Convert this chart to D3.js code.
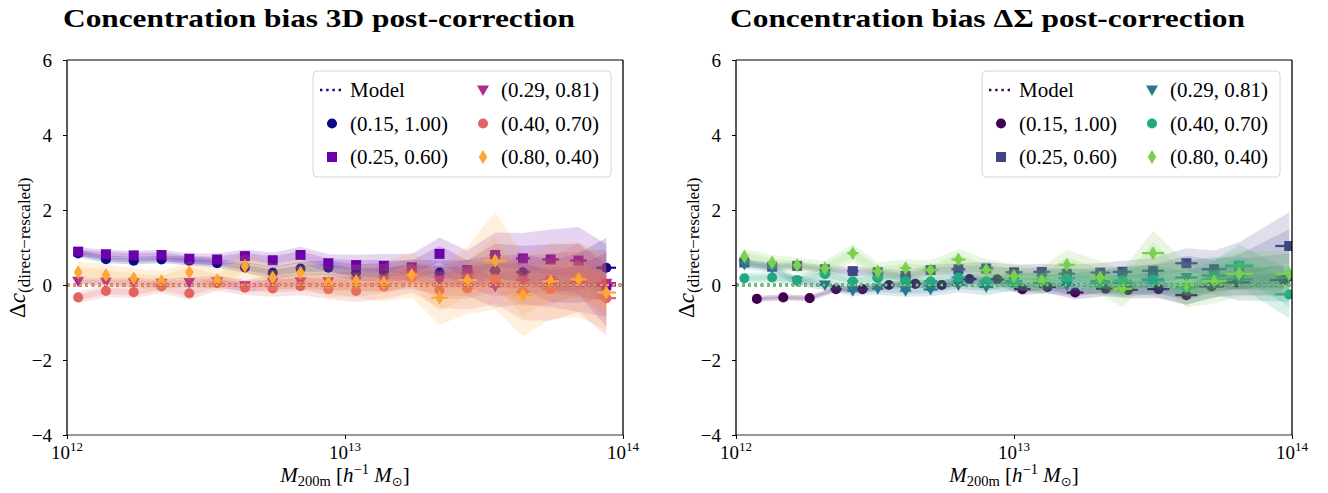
<!DOCTYPE html>
<html>
<head>
<meta charset="utf-8">
<script src="https://cdn.jsdelivr.net/npm/d3@7"></script>
<style>
  body { margin: 0; background: #fff; }
  svg { display: block; }
  text { font-family: "Liberation Serif", "DejaVu Serif", serif; fill: #000; }
</style>
</head>
<body>
<svg id="fig" width="1328" height="493"></svg>
<script>
// ---- shared labels / styles ----
const seriesLabels = ["(0.15, 1.00)", "(0.25, 0.60)", "(0.29, 0.81)", "(0.40, 0.70)", "(0.80, 0.40)"];
const seriesMarkers = ["circle", "square", "triangle", "circle", "diamond"];
const plasmaColors = ["#0d0887", "#6a00a8", "#b12a90", "#e16462", "#fca636"];
const viridisColors = ["#440154", "#414487", "#2a788e", "#22a884", "#7ad151"];
const yTicks = [-4, -2, 0, 2, 4, 6];
const xTickExps = [12, 13, 14];

// ---- 3D panel: log10 halo mass of each bin ----
const logM3D = [12.04, 12.14, 12.24, 12.34, 12.44, 12.54, 12.64, 12.74, 12.84, 12.94,
                13.04, 13.14, 13.24, 13.34, 13.44, 13.54, 13.64, 13.74, 13.84, 13.94];
// concentration bias and 1-sigma scatter per cosmology
const d3_015 = [0.84, 0.69, 0.65, 0.68, 0.65, 0.58, 0.47, 0.33, 0.44, 0.46, 0.33, 0.35, 0.40, 0.33, 0.31, 0.38, 0.34, 0.11, 0.18, 0.46];
const e3_015 = [0.05, 0.05, 0.05, 0.05, 0.06, 0.06, 0.07, 0.08, 0.09, 0.10, 0.11, 0.12, 0.14, 0.16, 0.18, 0.20, 0.24, 0.28, 0.33, 0.40];
const d3_025 = [0.89, 0.82, 0.79, 0.80, 0.70, 0.68, 0.77, 0.66, 0.80, 0.58, 0.53, 0.51, 0.47, 0.83, 0.40, 0.80, 0.71, 0.68, 0.65, -0.01];
const e3_025 = [0.06, 0.06, 0.06, 0.07, 0.07, 0.08, 0.09, 0.10, 0.11, 0.12, 0.14, 0.16, 0.18, 0.22, 0.26, 0.30, 0.34, 0.40, 0.45, 0.55];
const d3_029 = [0.10, 0.08, 0.07, 0.05, 0.07, 0.09, -0.02, 0.07, 0.09, 0.09, 0.10, 0.12, 0.24, 0.13, 0.19, -0.04, 0.13, 0.13, 0.09, 0.05];
const e3_029 = [0.05, 0.05, 0.06, 0.06, 0.07, 0.08, 0.08, 0.09, 0.10, 0.11, 0.13, 0.15, 0.17, 0.20, 0.24, 0.28, 0.32, 0.36, 0.40, 0.45];
const d3_040 = [-0.33, -0.16, -0.19, -0.04, -0.22, 0.05, -0.07, -0.09, -0.03, -0.11, -0.16, -0.04, 0.20, -0.13, -0.09, 0.15, -0.18, -0.11, 0.20, -0.35];
const e3_040 = [0.08, 0.08, 0.08, 0.09, 0.09, 0.10, 0.10, 0.11, 0.12, 0.13, 0.15, 0.17, 0.20, 0.24, 0.28, 0.33, 0.38, 0.42, 0.46, 0.50];
const d3_080 = [0.34, 0.27, 0.18, 0.11, 0.34, 0.13, 0.51, 0.20, 0.33, 0.07, 0.11, 0.06, 0.27, -0.34, 0.13, 0.65, -0.27, 0.10, 0.15, -0.20];
const e3_080 = [0.14, 0.14, 0.13, 0.13, 0.14, 0.15, 0.16, 0.18, 0.19, 0.20, 0.22, 0.25, 0.30, 0.36, 0.45, 0.65, 0.55, 0.50, 0.50, 0.50];
// horizontal spread of the bin mass (dex)
const x3_small = [0, 0, 0, 0, 0, 0, 0, 0, 0, 0, 0.01, 0.01, 0.01, 0.015, 0.02, 0.02, 0.025, 0.03, 0.03, 0.035];
const x3_080 = [0, 0, 0, 0, 0, 0, 0, 0, 0, 0, 0.01, 0.01, 0.02, 0.03, 0.035, 0.04, 0.035, 0.03, 0.03, 0.035];

// ---- Delta Sigma panel ----
const logMDS = [12.03, 12.13, 12.22, 12.32, 12.42, 12.51, 12.61, 12.70, 12.80, 12.90,
                13.00, 13.10, 13.19, 13.31, 13.39, 13.50, 13.62, 13.72, 13.81, 13.99];
const logMDS_015 = [12.075, 12.17, 12.265, 12.36, 12.455, 12.55, 12.645, 12.74, 12.84, 12.94,
                    13.03, 13.12, 13.22, 13.33, 13.41, 13.52, 13.62, 13.71, 13.80, 13.97];
const ds_015 = [-0.37, -0.33, -0.35, -0.11, -0.11, 0.00, 0.03, 0.00, 0.16, 0.15, -0.11, -0.05, -0.20, -0.10, -0.13, -0.11, -0.27, -0.04, 0.07, 0.13];
const eds_015 = [0.04, 0.04, 0.04, 0.04, 0.05, 0.05, 0.05, 0.06, 0.06, 0.07, 0.08, 0.08, 0.09, 0.10, 0.11, 0.12, 0.13, 0.15, 0.17, 0.20];
const ds_025 = [0.60, 0.49, 0.51, 0.42, 0.37, 0.34, 0.24, 0.40, 0.42, 0.44, 0.34, 0.35, 0.30, 0.33, 0.35, 0.38, 0.58, 0.42, 0.50, 1.04];
const eds_025 = [0.05, 0.05, 0.05, 0.05, 0.06, 0.06, 0.07, 0.07, 0.08, 0.09, 0.10, 0.11, 0.12, 0.13, 0.15, 0.17, 0.20, 0.25, 0.32, 0.45];
const ds_029 = [0.55, 0.45, 0.10, 0.00, -0.15, -0.10, -0.15, -0.12, 0.00, -0.05, 0.10, 0.05, 0.00, 0.10, 0.05, 0.15, 0.20, 0.25, 0.15, 0.20];
const eds_029 = [0.06, 0.06, 0.06, 0.07, 0.07, 0.08, 0.08, 0.09, 0.10, 0.11, 0.12, 0.13, 0.14, 0.16, 0.18, 0.20, 0.22, 0.25, 0.28, 0.32];
const ds_040 = [0.18, 0.20, 0.13, 0.29, 0.10, 0.18, 0.10, 0.10, 0.20, 0.10, 0.05, 0.12, 0.18, 0.05, 0.12, 0.12, -0.07, 0.15, 0.52, -0.25];
const eds_040 = [0.07, 0.07, 0.07, 0.08, 0.08, 0.08, 0.09, 0.09, 0.10, 0.11, 0.12, 0.13, 0.14, 0.16, 0.18, 0.20, 0.22, 0.25, 0.28, 0.32];
const ds_080 = [0.76, 0.60, 0.53, 0.45, 0.85, 0.37, 0.45, 0.40, 0.68, 0.40, 0.24, 0.12, 0.54, 0.20, -0.10, 0.85, 0.00, 0.10, 0.30, 0.30];
const eds_080 = [0.10, 0.10, 0.10, 0.10, 0.12, 0.12, 0.12, 0.13, 0.14, 0.15, 0.16, 0.18, 0.20, 0.22, 0.25, 0.30, 0.30, 0.30, 0.30, 0.30];
const xds = [0.01, 0.015, 0.015, 0.02, 0.02, 0.02, 0.02, 0.025, 0.025, 0.025, 0.03, 0.03, 0.03, 0.035, 0.035, 0.04, 0.04, 0.045, 0.05, 0.05];

// ---- figure ----
const svg = d3.select("#fig");
const Y0 = 60, Y1 = 435;

function markerPath(kind) {
  if (kind === "circle") return d3.symbol(d3.symbolCircle, 80)();
  if (kind === "square") return d3.symbol(d3.symbolSquare, 100)();
  if (kind === "triangle") return "M-6,-4.5L6,-4.5L0,6Z";
  if (kind === "diamond") return "M0,-7L4.3,0L0,7L-4.3,0Z";
}

function drawPanel(cfg) {
  const g = svg.append("g");
  const x = d3.scaleLog().domain([1e12, 1e14]).range([cfg.x0, cfg.x1]);
  const y = d3.scaleLinear().domain([-4, 6]).range([Y1, Y0]);
  const clipId = "clip" + cfg.id;
  svg.append("clipPath").attr("id", clipId)
    .append("rect").attr("x", cfg.x0).attr("y", Y0).attr("width", cfg.x1 - cfg.x0).attr("height", Y1 - Y0);
  const plot = g.append("g").attr("clip-path", `url(#${clipId})`);

  cfg.series.forEach((s, k) => {
    const rows = s.m.map((lm, i) => ({ m: Math.pow(10, lm), lm, v: s.v[i], e: s.e[i], xe: s.xe[i] }));
    const col = cfg.colors[k];
    [2, 1].forEach(n => {
      const area = d3.area().x(d => x(d.m)).y0(d => y(d.v - n * d.e)).y1(d => y(d.v + n * d.e));
      plot.append("path").attr("d", area(rows)).attr("fill", col).attr("fill-opacity", 0.17).attr("stroke", "none");
    });
    // horizontal spread bars
    plot.selectAll(null).data(rows.filter(d => d.xe > 0)).join("line")
      .attr("x1", d => x(Math.pow(10, d.lm - d.xe))).attr("x2", d => x(Math.pow(10, d.lm + d.xe)))
      .attr("y1", d => y(d.v)).attr("y2", d => y(d.v))
      .attr("stroke", col).attr("stroke-width", 2.2);
    plot.selectAll(null).data(rows).join("path")
      .attr("d", markerPath(cfg.markers[k]))
      .attr("transform", d => `translate(${x(d.m)},${y(d.v)})`)
      .attr("fill", col);
  });
  // model expectation for each cosmology
  cfg.colors.forEach(col => {
    plot.append("line").attr("x1", cfg.x0).attr("x2", cfg.x1).attr("y1", y(0)).attr("y2", y(0))
      .attr("stroke", col).attr("stroke-width", 2.4).attr("stroke-dasharray", "2.4,3.8");
  });

  // frame
  g.append("line").attr("x1", cfg.x0).attr("x2", cfg.x1).attr("y1", Y0).attr("y2", Y0).attr("stroke", "#555").attr("stroke-width", 1.4);
  g.append("line").attr("x1", cfg.x0).attr("x2", cfg.x1).attr("y1", Y1).attr("y2", Y1).attr("stroke", "#777").attr("stroke-width", 1.6);
  g.append("line").attr("x1", cfg.x0).attr("x2", cfg.x0).attr("y1", Y0).attr("y2", Y1).attr("stroke", "#000").attr("stroke-width", 1.3);
  g.append("line").attr("x1", cfg.x1).attr("x2", cfg.x1).attr("y1", Y0).attr("y2", Y1).attr("stroke", "#000").attr("stroke-width", 1.3);

  // y axis
  const ya = g.append("g").attr("transform", `translate(${cfg.x0},0)`)
    .call(d3.axisLeft(y).tickValues(yTicks).tickSize(4).tickPadding(11)
      .tickFormat(d => d < 0 ? "\u2212" + Math.abs(d) : String(d)));
  ya.select(".domain").remove();
  ya.selectAll("text").attr("font-size", 19).attr("font-family", "Liberation Serif").attr("dy", "0.36em");
  ya.selectAll("line").attr("stroke", "#000");

  // x axis
  const xa = g.append("g").attr("transform", `translate(0,${Y1})`)
    .call(d3.axisBottom(x).tickValues(xTickExps.map(e => Math.pow(10, e))).tickSize(4).tickFormat(""));
  xa.select(".domain").remove();
  xa.selectAll("line").attr("stroke", "#000");
  xTickExps.forEach(e => {
    const t = g.append("text").attr("x", x(Math.pow(10, e))).attr("y", 459).attr("text-anchor", "middle").attr("font-size", 19);
    t.append("tspan").text("10");
    t.append("tspan").attr("dy", -8).attr("font-size", 13).text(String(e));
  });

  // axis titles
  const cx = (cfg.x0 + cfg.x1) / 2;
  const xl = g.append("text").attr("x", cx).attr("y", 482).attr("text-anchor", "middle").attr("font-size", 21);
  xl.append("tspan").attr("font-style", "italic").text("M");
  xl.append("tspan").attr("font-size", 14.5).attr("dy", 4).text("200m");
  xl.append("tspan").attr("dy", -4).text(" [");
  xl.append("tspan").attr("font-style", "italic").text("h");
  xl.append("tspan").attr("font-size", 14.5).attr("dy", -8).text("\u22121");
  xl.append("tspan").attr("dy", 8).attr("font-style", "italic").text(" M");
  xl.append("tspan").attr("font-size", 13).attr("dy", 4).attr("font-family", "DejaVu Sans").text("\u2299");
  xl.append("tspan").attr("dy", -4).text("]");

  const yl = g.append("text").attr("transform", `translate(${cfg.x0 - 42},318) rotate(-90)`).attr("font-size", 23);
  yl.append("tspan").text("\u0394");
  yl.append("tspan").attr("font-style", "italic").text("c");
  yl.append("tspan").attr("font-size", 17).attr("dy", 5).text("(direct\u2212rescaled)");

  // panel title
  const title = g.append("text").attr("x", cfg.titleX).attr("y", 27).attr("font-size", 25).attr("font-weight", "bold").text(cfg.title);
  title.attr("textLength", cfg.titleW).attr("lengthAdjust", "spacingAndGlyphs");

  // legend
  const lx = cfg.x1 - 310, ly = 71;
  const lg = g.append("g");
  lg.append("rect").attr("x", lx).attr("y", ly).attr("width", 298).attr("height", 106).attr("rx", 4)
    .attr("fill", "#fff").attr("fill-opacity", 0.85).attr("stroke", "#d6d6d6").attr("stroke-width", 1);
  const entries = [{ model: true, label: "Model", col: cfg.colors[0] }]
    .concat(seriesLabels.map((l, k) => ({ label: l, col: cfg.colors[k], mk: cfg.markers[k] })));
  entries.forEach((en, i) => {
    const colI = Math.floor(i / 3), rowI = i % 3;
    const ex = lx + 19 + colI * 151, ey = ly + 19 + rowI * 33.5;
    if (en.model) {
      lg.append("line").attr("x1", ex - 12).attr("x2", ex + 10).attr("y1", ey).attr("y2", ey)
        .attr("stroke", en.col).attr("stroke-width", 2.4).attr("stroke-dasharray", "2.4,3.8");
    } else {
      lg.append("path").attr("d", markerPath(en.mk)).attr("transform", `translate(${ex},${ey})`).attr("fill", en.col);
    }
    lg.append("text").attr("x", ex + 18).attr("y", ey + 7).attr("font-size", 21).text(en.label);
  });
}

drawPanel({
  id: "a", x0: 67, x1: 623, title: "Concentration bias 3D post-correction", titleX: 63, titleW: 512,
  colors: plasmaColors, markers: seriesMarkers,
  series: [
    { m: logM3D, v: d3_015, e: e3_015, xe: x3_small },
    { m: logM3D, v: d3_025, e: e3_025, xe: x3_small },
    { m: logM3D, v: d3_029, e: e3_029, xe: x3_small },
    { m: logM3D, v: d3_040, e: e3_040, xe: x3_small },
    { m: logM3D, v: d3_080, e: e3_080, xe: x3_080 }
  ]
});
drawPanel({
  id: "b", x0: 736, x1: 1292, title: "Concentration bias \u0394\u03A3 post-correction", titleX: 730, titleW: 515,
  colors: viridisColors, markers: seriesMarkers,
  series: [
    { m: logMDS_015, v: ds_015, e: eds_015, xe: xds },
    { m: logMDS, v: ds_025, e: eds_025, xe: xds },
    { m: logMDS, v: ds_029, e: eds_029, xe: xds },
    { m: logMDS, v: ds_040, e: eds_040, xe: xds },
    { m: logMDS, v: ds_080, e: eds_080, xe: xds }
  ]
});
</script>
</body>
</html>
